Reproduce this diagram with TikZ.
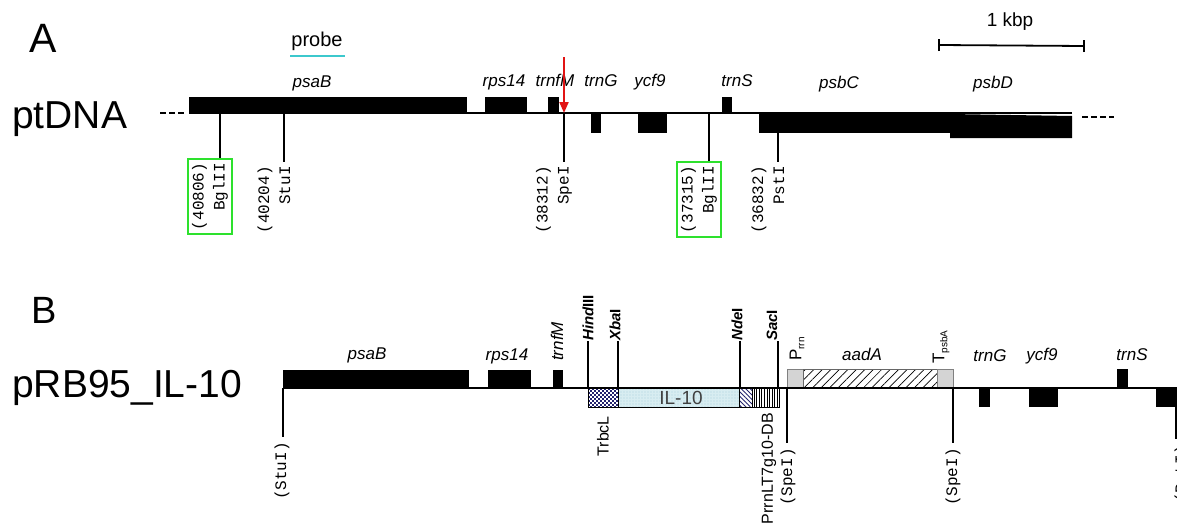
\documentclass[tikz,border=0pt]{standalone}
\usepackage{fontspec}
\setmainfont{Liberation Sans}
\newfontfamily\monof{Liberation Mono}
\usetikzlibrary{patterns,patterns.meta,arrows.meta}
\definecolor{gboxc}{RGB}{45,225,45}
\definecolor{probec}{RGB}{60,200,205}
\definecolor{navyc}{RGB}{35,35,110}
\definecolor{ilc}{RGB}{216,237,241}
\definecolor{ildot}{RGB}{172,210,220}
\definecolor{arrowc}{RGB}{225,20,20}
\definecolor{pboxc}{RGB}{212,212,212}
\begin{document}
\begin{tikzpicture}[x=1pt,y=-1pt,
  genebox/.style={fill=black},
  glab/.style={font=\fontsize{17}{20}\selectfont\itshape, anchor=base, inner sep=0pt},
  sitel/.style={line width=1.1pt},
  bglline/.style={line width=2.6pt},
  slab/.style={font=\fontsize{16}{21}\selectfont\monof, rotate=90, anchor=east, align=right, inner sep=4pt},
  slabone/.style={font=\fontsize{16}{21}\selectfont\monof, rotate=90, anchor=east, inner sep=0pt},
  gbox/.style={draw=gboxc, line width=1.6pt},
  enz/.style={font=\fontsize{15}{18}\selectfont\bfseries, rotate=90, anchor=west, inner sep=0pt},
  vlab/.style={font=\fontsize{16}{18}\selectfont, rotate=90, inner sep=0pt},
  bigl/.style={font=\fontsize{39}{44}\selectfont, inner sep=0pt},
  mainl/.style={line width=1.5pt},
  insertbox/.style={draw=black, line width=0.8pt},
  dashend/.style={line width=2pt, dash pattern=on 6pt off 3pt},
]
\useasboundingbox (0,0) rectangle (1177,530);
% ================= Panel A =================
\node[bigl, font=\fontsize{41}{44}\selectfont, anchor=base] (lA) at (43,52) {A};
\node[bigl, anchor=base west] (ptdna) at (12,128) {ptDNA};
% probe
\node[font=\fontsize{20}{22}\selectfont, anchor=base, inner sep=0pt] (probe) at (317,46) {probe};
\coordinate (pr1) at (290,56); \coordinate (pr2) at (345,56);
\draw[probec, line width=2.6pt] (pr1) -- (pr2);
% scale bar
\node[font=\fontsize{19}{22}\selectfont, anchor=base, inner sep=0pt] (kbp) at (1010,26) {1 kbp};
\coordinate (sb1) at (939,45); \coordinate (sb2) at (1084,46);
\draw[line width=1.8pt] (sb1) -- (sb2);
\draw[line width=1.8pt] ([yshift=-6pt]sb1) -- ([yshift=6pt]sb1);
\draw[line width=1.8pt] ([yshift=-6pt]sb2) -- ([yshift=6pt]sb2);
% backbone
\coordinate (aL) at (189,113); \coordinate (aR) at (1072,113);
\coordinate (dA1) at (160,113); \coordinate (dA2) at (187,113);
\coordinate (dA3) at (1082,117); \coordinate (dA4) at (1114,117);
\draw[dashend] (dA1) -- (dA2);
\draw[dashend] (dA3) -- (dA4);
\draw[mainl] (aL) -- (aR);
% genes
\fill[genebox] (189,97) rectangle (467,113);
\fill[genebox] (485,97) rectangle (527,113);
\fill[genebox] (548,97) rectangle (559,113);
\fill[genebox] (591,113) rectangle (601,133);
\fill[genebox] (638,113) rectangle (667,133);
\fill[genebox] (722,97) rectangle (732,113);
\fill[genebox] (759,113) rectangle (950,133);
\fill[genebox] (950,114) -- (1072,116) -- (1072,138) -- (950,138) -- cycle;
% gene labels
\node[glab] (gA1) at (312,87) {psaB};
\node[glab] (gA2) at (504,86) {rps14};
\node[glab] (gA3) at (555,86) {trnfM};
\node[glab] (gA4) at (601,86) {trnG};
\node[glab] (gA5) at (650,86) {ycf9};
\node[glab] (gA6) at (737,86) {trnS};
\node[glab] (gA7) at (839,88) {psbC};
\node[glab] (gA8) at (993,88) {psbD};
% red arrow
\coordinate (arrtop) at (564,57); \coordinate (arrtip) at (564,113);
\draw[arrowc, line width=2pt, -{Triangle[width=9pt,length=11pt]}] (arrtop) -- (arrtip);
% restriction sites A
\coordinate (sA1) at (220,113);
\node[slab, gbox] (lA1) at (210,158) {(40806)\\BglII};
\draw[bglline] (sA1) -- (sA1 |- lA1.east);
\coordinate (sA2) at (284,113);
\node[slab] (lA2) at (274,162) {(40204)\\StuI};
\draw[sitel] (sA2) -- (sA2 |- lA2.east);
\coordinate (sA3) at (564,113);
\node[slab] (lA3) at (554,162) {(38312)\\SpeI};
\draw[sitel] (sA3) -- (sA3 |- lA3.east);
\coordinate (sA4) at (709,113);
\node[slab, gbox] (lA4) at (699,161) {(37315)\\BglII};
\draw[bglline] (sA4) -- (sA4 |- lA4.east);
\coordinate (sA5) at (778,133);
\node[slab] (lA5) at (768,162) {(36832)\\PstI};
\draw[sitel] (sA5) -- (sA5 |- lA5.east);
% ================= Panel B =================
\node[bigl, font=\fontsize{38}{44}\selectfont, anchor=base] (lB) at (44,323) {B};
\node[bigl, anchor=base west] (prb) at (12,397) {pRB95\_IL-10};
\coordinate (bL) at (283,388); \coordinate (bR) at (1190,388);
\draw[mainl] (bL) -- (bR);
% genes
\fill[genebox] (283,370) rectangle (469,388);
\fill[genebox] (488,370) rectangle (531,388);
\fill[genebox] (553,370) rectangle (563,388);
\fill[genebox] (979,388) rectangle (990,407);
\fill[genebox] (1029,388) rectangle (1058,407);
\fill[genebox] (1117,369) rectangle (1128,388);
\fill[genebox] (1156,388) rectangle (1190,407);
% insert: TrbcL checkerboard
\fill[white] (588,388) rectangle (618,407);
\begin{scope}
\clip (588,388) rectangle (618,407);
\foreach \i in {0,...,14} {
  \foreach \j in {0,...,9} {
    \pgfmathtruncatemacro{\cpar}{mod(\i+\j,2)}
    \ifnum\cpar=0
      \fill[navyc] (588+2*\i,388+2*\j) rectangle (590+2*\i,390+2*\j);
    \fi
  }
}
\end{scope}
\draw[insertbox] (588,388) rectangle (618,407);
\fill[ilc] (618,388) rectangle (739,407);
\path[pattern={Dots[distance=3pt,radius=0.7pt]}, pattern color=ildot] (618,388) rectangle (739,407);
\draw[insertbox] (618,388) rectangle (739,407);
\node[font=\fontsize{19}{22}\selectfont, text=black!75, inner sep=0pt] (il10) at (681,398) {IL-10};
\path[pattern={Lines[angle=-45,distance=3.2pt,line width=0.9pt]}, pattern color=navyc] (739,388) rectangle (752,407);
\draw[insertbox] (739,388) rectangle (752,407);
\path[pattern={Lines[angle=90,distance=2.6pt,line width=0.7pt]}, pattern color=black] (752,388) rectangle (779,407);
\draw[insertbox] (752,388) rectangle (779,407);
% aadA cassette
\fill[pboxc] (787,369) rectangle (803,388);
\draw[black!50, line width=0.8pt] (787,369) rectangle (803,388);
\path[pattern={Lines[angle=45,distance=6pt,line width=0.7pt]}, pattern color=black] (803,369) rectangle (937,388);
\draw[black!60, line width=0.8pt] (803,369) rectangle (937,388);
\fill[pboxc] (937,369) rectangle (953,388);
\draw[black!50, line width=0.8pt] (937,369) rectangle (953,388);
\draw[mainl] (bL) -- (bR);
% gene labels B
\node[glab] (gB1) at (367,359) {psaB};
\node[glab] (gB2) at (507,360) {rps14};
\node[glab, rotate=90, anchor=west] (gB3) at (557,361) {trnfM};
\node[glab] (gB4) at (862,360) {aadA};
\node[glab] (gB5) at (990,361) {trnG};
\node[glab] (gB6) at (1042,360) {ycf9};
\node[glab] (gB7) at (1132,360) {trnS};
% enzyme sites above
\node[enz] (eH) at (588,341) {{\itshape Hind}III};
\coordinate (cH) at (588,388); \draw[sitel] (cH) -- (cH |- eH.west);
\node[enz] (eX) at (615,341) {{\itshape Xba}I};
\coordinate (cX) at (618,388); \draw[sitel] (cX) -- (cX |- eX.west);
\node[enz] (eN) at (737,341) {{\itshape Nde}I};
\coordinate (cN) at (740,388); \draw[sitel] (cN) -- (cN |- eN.west);
\node[enz] (eS) at (772,341) {{\itshape Sac}I};
\coordinate (cS) at (778,388); \draw[sitel] (cS) -- (cS |- eS.west);
% element labels
\node[vlab, anchor=east] (trbcl) at (603,416) {TrbcL};
\node[vlab, anchor=east] (prrn) at (769,413) {PrrnLT7g10-DB};
\node[vlab, anchor=west, font=\fontsize{17}{18}\selectfont] (pr) at (797,361) {P{\fontsize{10}{12}\selectfont\raisebox{-3pt}{rrn}}};
\node[vlab, anchor=west, font=\fontsize{17}{18}\selectfont] (tp) at (941,364) {T{\fontsize{10}{12}\selectfont\raisebox{-3pt}{psbA}}};
% restriction sites below
\coordinate (sB1) at (283,388);
\node[slabone] (lB1) at (282,442) {(StuI)};
\draw[sitel] (sB1) -- ([yshift=5pt]sB1 |- lB1.east);
\coordinate (sB2) at (787,388);
\node[slabone] (lB2) at (788,448) {(SpeI)};
\draw[sitel] (sB2) -- ([yshift=5pt]sB2 |- lB2.east);
\coordinate (sB3) at (953,388);
\node[slabone] (lB3) at (953,448) {(SpeI)};
\draw[sitel] (sB3) -- ([yshift=5pt]sB3 |- lB3.east);
\coordinate (sB4) at (1176,407);
\node[slabone] (lB4) at (1182,445) {(PstI)};
\draw[sitel] (sB4) -- ([yshift=6pt]sB4 |- lB4.east);
\end{tikzpicture}
\end{document}
